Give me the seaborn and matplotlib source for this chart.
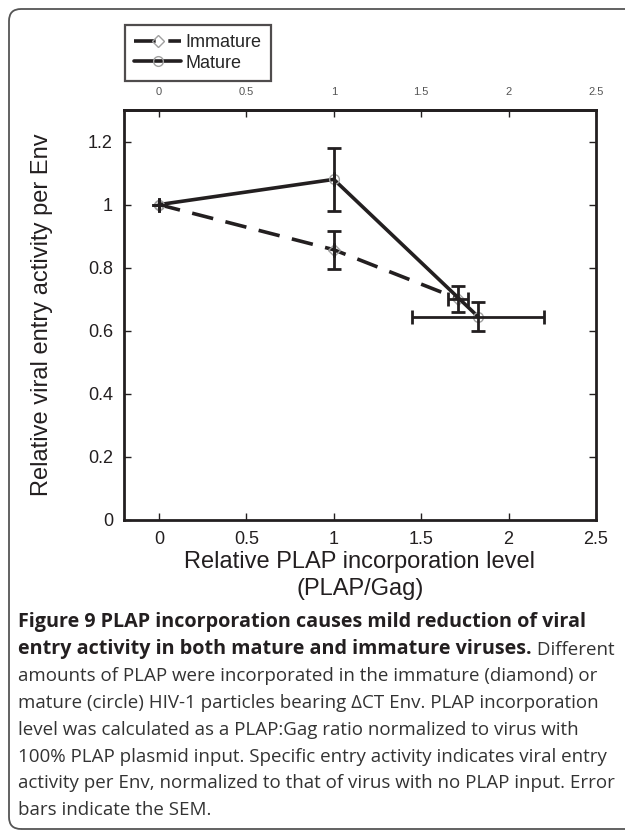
import matplotlib
matplotlib.use("Agg")
import matplotlib.pyplot as plt
from matplotlib.patches import FancyBboxPatch
import seaborn as sns
import pandas as pd

# values ------------------------------------------------------------------------------
series_names = ["Immature", "Mature"]

plap_immature = [0.0, 1.0, 1.71]
entry_immature = [1.0, 0.857, 0.702]
plap_err_immature = [0.0, 0.0, 0.055]
entry_err_immature = [0.0, 0.06, 0.041]

plap_mature = [0.0, 1.0, 1.825]
entry_mature = [1.0, 1.08, 0.645]
plap_err_mature = [0.0, 0.0, 0.38]
entry_err_mature = [0.0, 0.10, 0.046]

x_ticks = [0, 0.5, 1, 1.5, 2, 2.5]
x_tick_labels = ["0", "0.5", "1", "1.5", "2", "2.5"]
y_ticks = [0, 0.2, 0.4, 0.6, 0.8, 1.0, 1.2]
y_tick_labels = ["0", "0.2", "0.4", "0.6", "0.8", "1", "1.2"]

caption_bold = ["Figure 9 PLAP incorporation causes mild reduction of viral",
                "entry activity in both mature and immature viruses."]
caption_rest = [" Different",
                "amounts of PLAP were incorporated in the immature (diamond) or",
                "mature (circle) HIV-1 particles bearing \u0394CT Env. PLAP incorporation",
                "level was calculated as a PLAP:Gag ratio normalized to virus with",
                "100% PLAP plasmid input. Specific entry activity indicates viral entry",
                "activity per Env, normalized to that of virus with no PLAP input. Error",
                "bars indicate the SEM."]

# ------------------------------------------------------------------------------------
sns.set_style("ticks")
plt.rcParams["font.family"] = ["Liberation Sans", "DejaVu Sans"]

ink = "#231f20"
W, H = 625, 831
fig = plt.figure(figsize=(W / 100, H / 100), dpi=100)
ax = fig.add_axes([124 / W, 1 - 520 / H, 472 / W, 410 / H])

df = pd.DataFrame({
    "plap": plap_immature + plap_mature,
    "entry": entry_immature + entry_mature,
    "virus": [series_names[0]] * len(plap_immature) + [series_names[1]] * len(plap_mature),
})

sns.lineplot(data=df, x="plap", y="entry", style="virus", style_order=series_names,
             markers={"Immature": "D", "Mature": "o"},
             dashes={"Immature": (6, 3.5), "Mature": ""},
             color=ink, linewidth=2.6, markersize=7, markerfacecolor="none",
             markeredgecolor="#a0a0a0", markeredgewidth=1.0, legend=False, ax=ax)
ax.lines[0].set_markersize(6)

for xs, ys, xe, ye in [(plap_immature, entry_immature, plap_err_immature, entry_err_immature),
                       (plap_mature, entry_mature, plap_err_mature, entry_err_mature)]:
    ax.errorbar(xs, ys, xerr=xe, yerr=ye, fmt="none", ecolor=ink, elinewidth=2,
                capsize=4.8, capthick=2)

ax.set_xlim(-0.2, 2.5)
ax.set_ylim(0, 1.3)
ax.set_xticks(x_ticks, x_tick_labels)
ax.set_yticks(y_ticks, y_tick_labels)
ax.tick_params(direction="in", length=5, width=1, color=ink, labelsize=13,
               labelcolor=ink, pad=8, right=True)
for sp in ax.spines.values():
    sp.set_visible(True)
    sp.set_linewidth(2)
    sp.set_color(ink)

sec = ax.secondary_xaxis("top")
sec.set_xticks(x_ticks, x_tick_labels)
sec.tick_params(direction="in", length=5, width=1, color=ink, labelsize=8,
                labelcolor="#555555", pad=9)
sec.spines["top"].set_linewidth(2)
sec.spines["top"].set_color(ink)

ax.set_xlabel("Relative PLAP incorporation level\n(PLAP/Gag)", fontsize=17,
              color=ink, linespacing=1.3)
ax.xaxis.set_label_coords(0.5, -0.075)
ax.xaxis.label.set_va("top")
ax.set_ylabel("Relative viral entry activity per Env", fontsize=17, color=ink)
ax.yaxis.set_label_coords(-0.15, 0.5)

leg = ax.legend(handles=ax.lines[:2], labels=series_names, loc="upper left",
                bbox_to_anchor=(125 / W, 1 - 25 / H), bbox_transform=fig.transFigure,
                fontsize=13, frameon=True, fancybox=False, handlelength=2.6,
                handletextpad=0.25, labelspacing=0.2, borderpad=0.5, borderaxespad=0)
leg.get_frame().set_edgecolor(ink)
leg.get_frame().set_linewidth(1.6)

# caption -----------------------------------------------------------------------------
cap_font = ["Open Sans", "DejaVu Sans"]
x0 = 18 / W
y0, step = 622, 26.9
for i, line in enumerate(caption_bold):
    t = fig.text(x0, 1 - (y0 + i * step) / H, line, fontsize=14.2, fontweight="bold",
                 family=cap_font, color=ink, va="center")
# regular text continues right after the bold sentence
fig.add_artist(plt.Annotation(caption_rest[0], xy=(1, 0), xycoords=t, va="bottom",
                              fontsize=13.5, family=cap_font, color="#333333"))
for j, line in enumerate(caption_rest[1:]):
    fig.text(x0, 1 - (y0 + (j + 2) * step) / H, line, fontsize=13.5, family=cap_font,
             color="#333333", va="center")

frame = FancyBboxPatch((9, 2), 660, 820, boxstyle="round,pad=0,rounding_size=12",
                       transform=None, fill=False, edgecolor="#555555", linewidth=1.3)
fig.add_artist(frame)

fig.savefig("out.png", dpi=100)
